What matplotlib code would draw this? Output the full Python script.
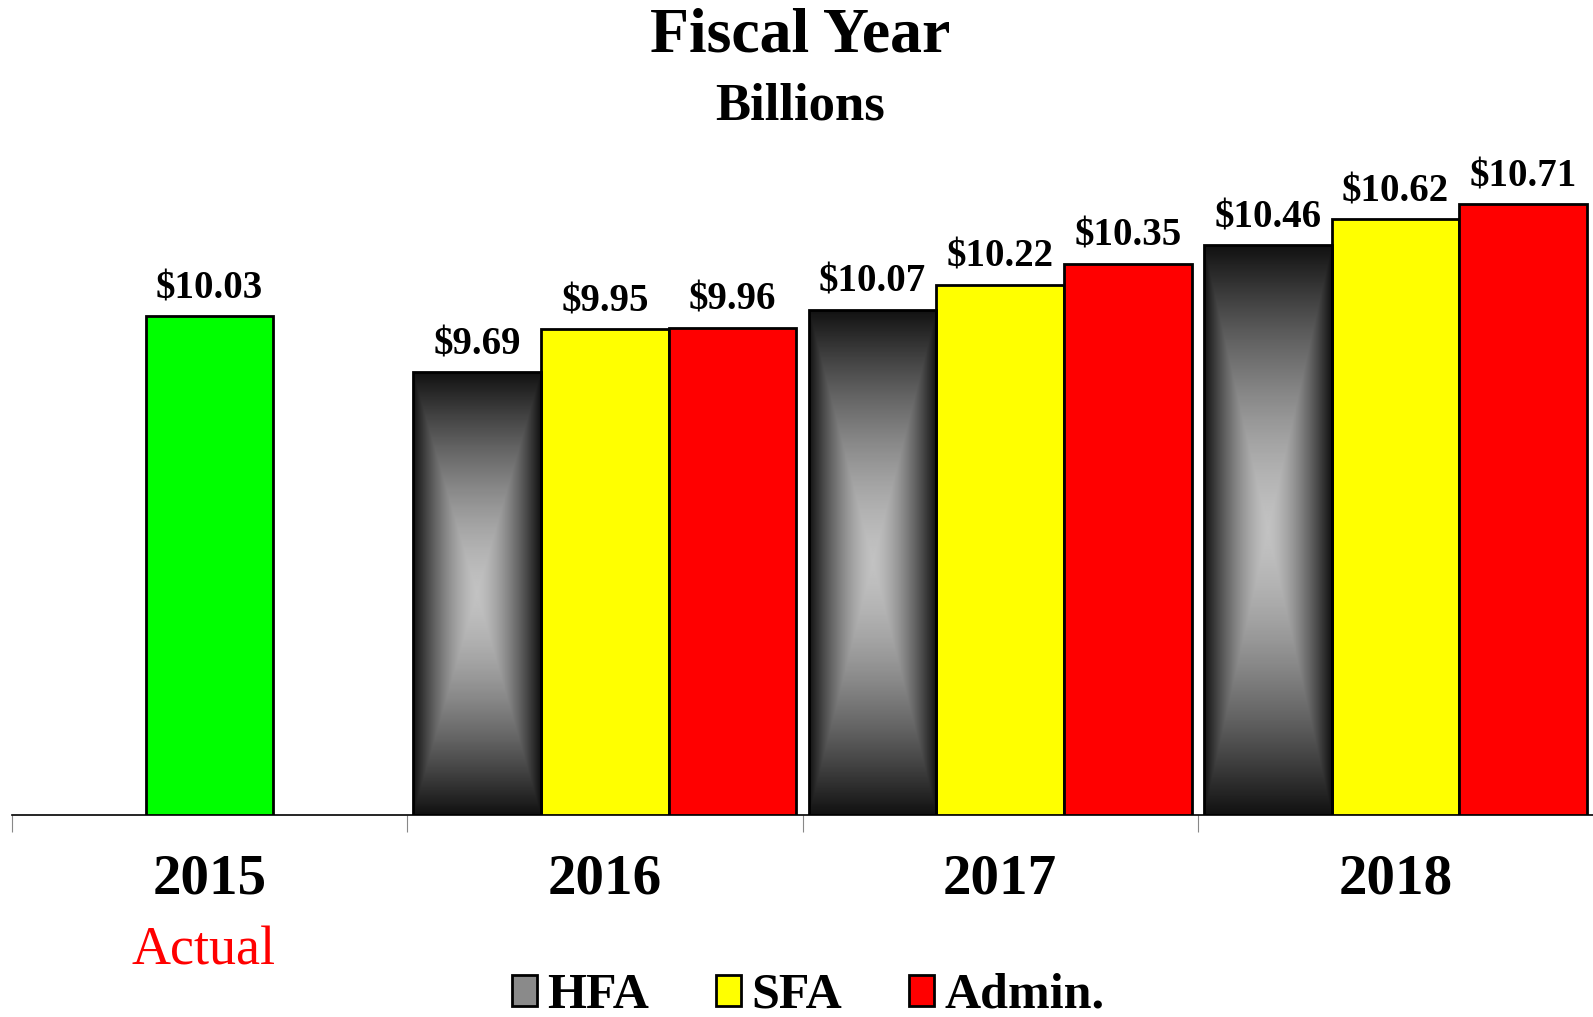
import matplotlib
matplotlib.use("Agg")
import matplotlib.pyplot as plt
import numpy as np
from matplotlib.patches import Rectangle

# data
years = ["2015", "2016", "2017", "2018"]
actual_2015 = 10.03
hfa = [9.69, 10.07, 10.46]
sfa = [9.95, 10.22, 10.62]
admin = [9.96, 10.35, 10.71]

plt.rcParams['font.family'] = ['Liberation Serif', 'DejaVu Serif']

W, H = 1593, 1017
fig = plt.figure(figsize=(W / 100, H / 100), dpi=100)
ax = fig.add_axes([12 / W, (H - 815) / H, (W - 12) / W, (815 - 150) / H])

ymin, ymax = 7.0, 11.04
ax.set_xlim(-0.5, 3.5)
ax.set_ylim(ymin, ymax)

bw = 0.323

# gradient for HFA bars: light centre, dark edges (rectangular path)
n = 200
uu, vv = np.meshgrid(np.linspace(-1, 1, n), np.linspace(-1, 1, n))
f = np.maximum(np.abs(uu), np.abs(vv))
grad = 0.76 - 0.69 * f ** 1.5


def label(x, v):
    ax.text(x, v + 0.055, "${:.2f}".format(v), ha="center", va="bottom",
            fontsize=28, fontweight="bold", zorder=5)


# 2015 actual
ax.bar(0, actual_2015 - ymin, bw, bottom=ymin, color="#00ff00",
       edgecolor="black", linewidth=2, zorder=3)
label(0, actual_2015)

for i, (h, s, a) in enumerate(zip(hfa, sfa, admin)):
    xc = i + 1
    xh = xc - bw
    rect = Rectangle((xh - bw / 2, ymin), bw, h - ymin, facecolor="none",
                     edgecolor="black", linewidth=2, zorder=4)
    ax.add_patch(rect)
    im = ax.imshow(grad, cmap="gray", vmin=0, vmax=1, aspect="auto",
                   extent=(xh - bw / 2, xh + bw / 2, ymin, h), zorder=3,
                   interpolation="bilinear")
    im.set_clip_path(rect)
    label(xh, h)

    ax.bar(xc, s - ymin, bw, bottom=ymin, color="#ffff00",
           edgecolor="black", linewidth=2, zorder=3)
    label(xc, s)
    ax.bar(xc + bw, a - ymin, bw, bottom=ymin, color="#ff0000",
           edgecolor="black", linewidth=2, zorder=3)
    label(xc + bw, a)

ax.set_xlim(-0.5, 3.5)
ax.set_ylim(ymin, ymax)

for sp in ["top", "right", "left"]:
    ax.spines[sp].set_visible(False)
ax.spines["bottom"].set_linewidth(1.2)
ax.spines["bottom"].set_zorder(2)
ax.set_yticks([])
ax.set_xticks(range(4))
ax.set_xticklabels(years, fontsize=41, fontweight="bold")
ax.tick_params(axis="x", which="major", length=0, pad=28)
ax.set_xticks([-0.5, 0.5, 1.5, 2.5], minor=True)
ax.tick_params(axis="x", which="minor", length=12, width=0.8, color="#888888")

ax.text(-0.015, -0.205, "Actual", transform=ax.get_xaxis_transform(),
        ha="center", va="center", fontsize=39, color="#ff0000")

fig.text(800 / W, 1 - 37 / H, "Fiscal Year", ha="center", va="center",
         fontsize=46, fontweight="bold")
fig.text(800 / W, 1 - 107 / H, "Billions", ha="center", va="center",
         fontsize=38, fontweight="bold")

handles = [Rectangle((0, 0), 1, 1, facecolor="#8a8a8a", edgecolor="black", linewidth=2),
           Rectangle((0, 0), 1, 1, facecolor="#ffff00", edgecolor="black", linewidth=2),
           Rectangle((0, 0), 1, 1, facecolor="#ff0000", edgecolor="black", linewidth=2)]
fig.legend(handles, ["HFA", "SFA", "Admin."], loc="center",
           bbox_to_anchor=(808 / W, 1 - 996 / H), ncol=3, frameon=False,
           prop={"size": 36, "weight": "bold"}, handlelength=0.5,
           handleheight=0.6, handletextpad=0.2, columnspacing=1.35,
           borderpad=0)

fig.savefig("out.png", dpi=100)
